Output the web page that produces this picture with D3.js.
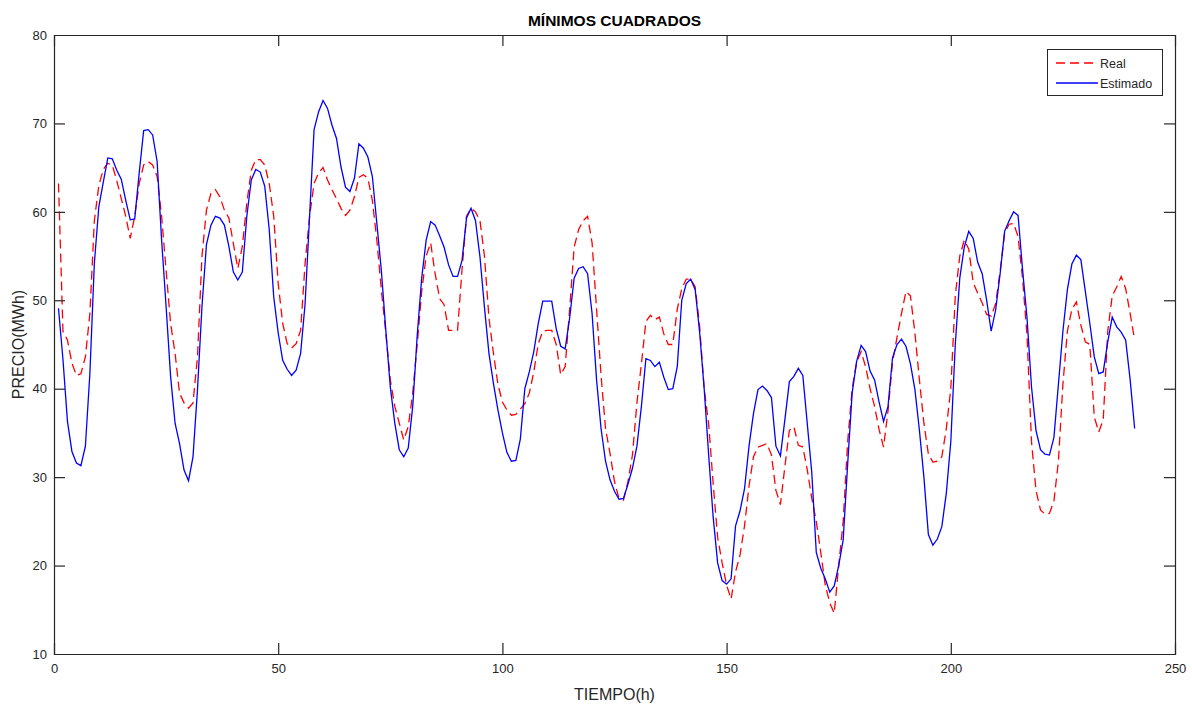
<!DOCTYPE html>
<html>
<head>
<meta charset="utf-8">
<script src="https://cdn.jsdelivr.net/npm/d3@7"></script>
<style>
  html, body { margin: 0; padding: 0; background: #fff; }
  svg { display: block; }
  text { font-family: "Liberation Sans", Arial, Helvetica, sans-serif; fill: #262626; }
</style>
</head>
<body>
<svg id="chart" width="1192" height="706"></svg>
<script>
// ---- data ----
const title = "MÍNIMOS CUADRADOS";
const xLabel = "TIEMPO(h)";
const yLabel = "PRECIO(MWh)";
const seriesNames = ["Real", "Estimado"];
const xTicks = [0, 50, 100, 150, 200, 250];
const yTicks = [10, 20, 30, 40, 50, 60, 70, 80];

const real = [
63.2,46.5,45.5,42.9,41.5,41.7,43.6,48.5,59.0,63.0,
64.8,65.5,65.3,63.5,61.5,59.5,57.0,59.5,63.2,65.3,
65.7,65.3,64.0,59.5,53.4,47.4,44.0,39.5,38.4,37.8,
38.4,43.6,55.0,60.2,62.1,62.5,61.7,60.2,59.3,56.4,
53.6,56.1,61.0,64.7,65.9,65.9,65.3,63.2,59.5,51.9,
47.4,45.1,44.6,45.1,46.6,54.2,59.5,63.2,64.4,65.0,
63.6,62.5,61.5,60.4,59.6,60.2,61.7,63.9,64.2,63.8,
61.3,56.8,51.2,46.3,41.0,38.0,36.1,34.2,35.7,39.5,
45.0,51.0,55.0,56.5,53.0,50.2,49.5,46.6,46.6,46.6,
53.5,59.5,60.4,60.0,59.0,55.0,48.0,44.0,40.5,38.5,
37.6,37.0,37.1,37.7,38.3,39.5,41.9,45.1,46.5,46.6,
46.6,45.0,41.6,42.5,49.0,56.0,58.0,59.0,59.5,56.5,
49.0,41.5,35.5,32.7,29.5,27.6,27.4,29.5,32.5,38.4,
42.8,47.6,48.3,47.8,48.1,46.2,45.0,45.0,49.0,51.3,
52.4,52.4,51.5,47.0,40.0,36.0,29.3,23.2,20.3,17.8,
16.2,19.3,21.2,24.5,29.0,32.3,33.4,33.6,33.8,32.5,
28.5,26.9,31.2,35.3,35.7,33.6,33.4,30.8,27.6,25.0,
21.5,17.8,15.8,14.6,20.0,25.0,34.0,40.0,43.0,44.2,
42.5,40.0,38.0,35.4,33.4,37.5,43.0,45.8,48.5,51.0,
50.5,46.3,41.0,36.1,32.6,31.7,31.8,32.3,35.5,40.0,
50.5,55.0,56.8,55.8,52.0,50.8,49.7,48.4,48.2,49.6,
53.3,57.6,58.6,58.7,57.2,52.5,46.0,34.0,28.5,26.3,
25.8,25.9,27.3,31.8,40.5,46.5,49.0,49.8,47.2,45.3,
45.0,36.8,35.1,36.5,46.5,50.5,51.5,52.7,51.3,48.5,
45.5
];

const estimado = [
49.1,43.3,36.3,32.9,31.6,31.3,33.5,41.7,54.2,60.6,
63.4,66.1,66.0,64.7,63.7,61.3,59.1,59.2,64.4,69.2,
69.3,68.7,65.7,56.8,49.3,41.4,36.1,33.8,30.8,29.6,
32.3,39.9,49.3,56.3,58.5,59.5,59.3,58.5,56.1,53.2,
52.3,53.2,59.5,63.6,64.8,64.5,62.9,58.0,50.4,46.3,
43.2,42.2,41.5,42.1,44.0,49.6,59.5,69.3,71.3,72.6,
71.7,69.8,68.3,65.1,62.8,62.3,63.8,67.7,67.2,66.2,
64.0,58.7,53.4,46.6,40.2,36.1,33.1,32.3,33.3,38.0,
46.0,52.5,56.8,58.9,58.5,57.3,56.0,54.0,52.7,52.7,
54.5,59.3,60.4,59.0,54.9,49.2,44.0,40.6,37.6,35.0,
32.8,31.8,31.9,34.3,40.0,41.9,44.2,47.4,49.9,49.9,
49.9,46.8,44.8,44.5,48.0,52.5,53.6,53.8,53.0,48.5,
41.0,35.5,31.8,29.7,28.4,27.5,27.6,29.2,31.0,33.5,
38.0,43.4,43.2,42.5,43.0,41.3,39.9,40.0,42.5,50.0,
51.9,52.4,51.2,46.3,40.0,32.5,25.5,20.3,18.3,17.9,
18.5,24.5,26.2,28.7,33.5,37.2,39.9,40.3,39.8,39.0,
33.5,32.4,36.5,40.8,41.4,42.3,41.5,36.0,30.5,21.5,
19.7,18.5,17.0,17.7,20.0,22.9,31.5,39.5,43.1,44.9,
44.2,42.0,41.0,38.5,36.3,38.0,43.5,45.0,45.6,44.8,
42.8,39.9,35.3,30.0,23.5,22.3,23.0,24.4,28.2,34.0,
45.0,52.5,56.0,57.8,57.0,54.3,53.0,50.0,46.5,48.9,
53.0,57.8,59.0,60.0,59.6,53.5,48.0,40.2,35.3,33.1,
32.6,32.5,34.5,40.5,46.5,51.2,54.1,55.1,54.6,51.0,
47.4,43.6,41.7,41.9,45.3,48.1,47.0,46.4,45.5,41.0,
35.5
];

// ---- layout ----
const W = 1192, H = 706;
const m = { left: 54, right: 1175, top: 35, bottom: 654 };
const svg = d3.select("#chart");

const x = d3.scaleLinear().domain([0, 250]).range([m.left, m.right]);
const y = d3.scaleLinear().domain([10, 80]).range([m.bottom, m.top]);

const axisColor = "#262626";
const tickLen = 11;

// plot background
svg.append("rect").attr("x", m.left).attr("y", m.top)
  .attr("width", m.right - m.left).attr("height", m.bottom - m.top)
  .attr("fill", "#fff");

// lines
const line = d3.line().x((d, i) => x(i + 1)).y(d => y(d));
const g = svg.append("g");
g.append("path").datum(real)
  .attr("fill", "none").attr("stroke", "#ff0000").attr("stroke-width", 1.3)
  .attr("stroke-dasharray", "9,5").attr("d", line);
g.append("path").datum(estimado)
  .attr("fill", "none").attr("stroke", "#0000ff").attr("stroke-width", 1.3)
  .attr("d", line);

// axes (box with inward ticks)
const axB = d3.axisBottom(x).tickValues(xTicks).tickSize(-tickLen).tickPadding(10).tickFormat(d3.format("d"));
const axT = d3.axisTop(x).tickValues(xTicks).tickSize(-tickLen).tickFormat("");
const axL = d3.axisLeft(y).tickValues(yTicks).tickSize(-tickLen).tickPadding(7).tickFormat(d3.format("d"));
const axR = d3.axisRight(y).tickValues(yTicks).tickSize(-tickLen).tickFormat("");

function style(sel) {
  sel.select(".domain").attr("stroke", axisColor).attr("stroke-width", 1.2);
  sel.selectAll(".tick line").attr("stroke", axisColor).attr("stroke-width", 1.2);
  sel.selectAll(".tick text").attr("fill", axisColor)
    .style("font-family", '"Liberation Sans", Arial, sans-serif').style("font-size", "13px");
}
svg.append("g").attr("transform", `translate(0,${m.bottom})`).call(axB).call(style);
svg.append("g").attr("transform", `translate(0,${m.top})`).call(axT).call(style);
svg.append("g").attr("transform", `translate(${m.left},0)`).call(axL).call(style);
svg.append("g").attr("transform", `translate(${m.right},0)`).call(axR).call(style);

// remove the tick marks at the axis ends (box corners)
svg.selectAll(".tick line").filter(function() {
  const p = d3.select(this.parentNode).datum();
  return p === 0 || p === 250 || p === 10 || p === 80;
}).attr("display", "none");

// title & labels
svg.append("text").attr("x", (m.left + m.right) / 2).attr("y", 26)
  .attr("text-anchor", "middle").style("font-weight", "bold").style("font-size", "15.5px")
  .style("fill", "#000").text(title);
svg.append("text").attr("x", (m.left + m.right) / 2).attr("y", 700)
  .attr("text-anchor", "middle").style("font-size", "16px").text(xLabel);
svg.append("text").attr("transform", `translate(24,${(m.top + m.bottom) / 2}) rotate(-90)`)
  .attr("text-anchor", "middle").style("font-size", "16px").text(yLabel);

// legend
const lg = svg.append("g");
lg.append("rect").attr("x", 1047.5).attr("y", 49.5).attr("width", 115).attr("height", 46)
  .attr("fill", "#fff").attr("stroke", axisColor).attr("stroke-width", 1);
const legendItems = [
  { name: seriesNames[0], color: "#ff0000", dash: "9,5", yy: 63 },
  { name: seriesNames[1], color: "#0000ff", dash: null, yy: 83 }
];
legendItems.forEach(it => {
  lg.append("line").attr("x1", 1056).attr("x2", 1098).attr("y1", it.yy).attr("y2", it.yy)
    .attr("stroke", it.color).attr("stroke-width", 1.3)
    .attr("stroke-dasharray", it.dash);
  lg.append("text").attr("x", 1100).attr("y", it.yy + 4.5)
    .style("font-size", "12.5px").text(it.name);
});
</script>
</body>
</html>
